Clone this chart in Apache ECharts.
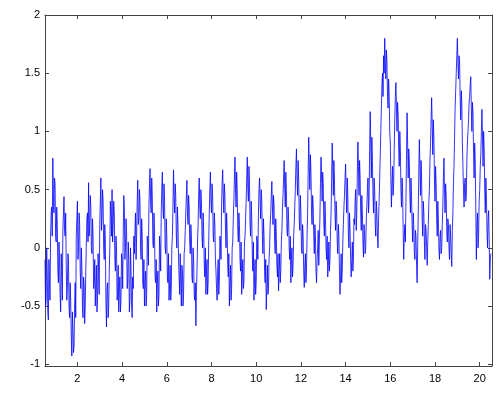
<!DOCTYPE html>
<html><head><meta charset="utf-8">
<script src="https://cdn.jsdelivr.net/npm/echarts@6/dist/echarts.min.js"></script>
<style>html,body{margin:0;padding:0;background:#fff}#c{width:500px;height:393px}</style>
</head><body><div id="c"></div>
<script>
// sampling grid: main samples at tStart + i*tStep, in-between samples half a step later
const tStart = 0.55;
const tStep = 0.05;
// main samples, one row per unit of time (20 samples each)
const signal = [
 -0.1,-0.45,-0.2,-0.62,-0.3,0.1,0.35,0.77,0.3,0.55,0.05,0.2,-0.3,-0.1,-0.55,-0.2,0.15,0.44,0.1,-0.15,
 -0.35,-0.1,-0.6,-0.45,-0.93,-0.7,-0.85,-0.3,0.1,0.4,0.0,0.2,-0.35,-0.15,-0.6,-0.3,-0.5,0.05,0.3,0.56,
 0.2,0.35,-0.05,0.1,-0.3,-0.5,-0.15,-0.45,-0.2,0.2,0.6,0.25,0.4,-0.1,0.05,-0.68,-0.3,-0.5,0.0,0.3,
 0.5,0.2,0.3,-0.2,0.0,-0.4,-0.55,-0.25,-0.45,-0.1,0.1,0.35,0.0,0.15,-0.3,-0.1,-0.45,-0.2,-0.6,-0.35,
 -0.05,0.3,0.1,0.58,0.25,0.4,-0.1,0.1,-0.35,-0.5,-0.2,-0.4,0.05,0.35,0.68,0.3,0.45,0.0,0.15,-0.3,
 -0.55,-0.2,-0.4,0.0,0.3,0.65,0.25,0.4,-0.05,0.1,-0.3,-0.45,-0.15,-0.35,0.1,0.67,0.3,0.45,0.0,0.2,
 -0.25,-0.05,-0.5,-0.2,-0.4,0.0,0.3,0.58,0.2,0.35,-0.05,0.1,-0.3,-0.1,-0.45,-0.67,-0.2,0.2,0.6,0.25,
 0.4,0.0,0.15,-0.25,-0.4,-0.1,-0.3,0.3,0.65,0.3,0.45,0.05,0.2,-0.2,-0.45,-0.1,-0.3,0.05,0.35,0.67,
 0.3,0.45,0.0,0.15,-0.25,-0.5,-0.15,-0.35,0.05,0.4,0.78,0.35,0.5,0.05,0.2,-0.2,-0.4,-0.1,-0.3,0.1,
 0.4,0.78,0.4,0.55,0.1,0.25,-0.2,-0.45,-0.1,-0.3,0.05,0.3,0.6,0.25,0.4,-0.05,0.1,-0.3,-0.53,-0.15,
 -0.35,0.0,0.3,0.57,0.2,0.35,-0.05,0.1,-0.25,-0.37,-0.05,-0.2,0.15,0.45,0.75,0.35,0.5,0.1,0.25,-0.1,
 -0.3,0.0,-0.15,0.2,0.5,0.85,0.45,0.6,0.15,0.3,-0.05,0.1,-0.34,-0.05,-0.2,0.3,0.95,0.5,0.65,0.2,
 0.35,-0.05,0.1,-0.3,0.0,-0.15,0.25,0.78,0.4,0.55,0.1,0.25,-0.1,-0.25,0.05,-0.1,0.3,0.9,0.45,0.6,
 0.15,0.3,-0.05,0.1,-0.4,-0.05,-0.2,0.2,0.45,0.72,0.3,0.45,0.0,0.15,-0.25,0.05,-0.1,0.2,0.5,0.3,
 0.91,0.45,0.6,0.15,0.3,-0.08,0.1,0.0,0.35,0.6,0.4,1.17,0.6,0.75,0.3,0.5,0.1,0.3,0.0,0.4,
 0.8,1.2,1.5,1.65,1.8,1.45,1.6,1.2,1.3,0.9,0.35,0.7,0.55,1.1,1.42,1.0,1.15,0.7,0.85,0.35,
 0.5,-0.1,0.2,0.4,1.16,0.6,0.75,0.3,0.45,0.05,0.2,-0.1,0.1,-0.3,0.3,0.93,0.45,0.6,0.1,0.3,
 -0.1,0.15,-0.15,0.2,0.5,0.9,1.29,0.8,0.95,0.4,0.55,0.1,0.25,-0.1,0.15,0.0,0.35,0.77,0.3,0.45,
 0.05,0.2,-0.1,0.1,-0.16,0.3,0.7,1.2,1.5,1.8,1.45,1.6,1.1,1.25,0.7,0.35,0.6,0.45,0.9,1.1,
 1.3,1.47,1.0,1.15,0.6,0.75,-0.1,0.3,0.1,0.5,0.8,1.19,0.7,0.85,0.3,0.45,0.0,0.32,-0.27,-0.05
];
// in-between samples (half a step after each main sample)
const signalMid = [
 -0.5,0.0,-0.55,-0.1,-0.45,0.3,0.1,0.45,0.6,0.1,0.35,-0.2,0.05,-0.4,-0.05,-0.45,0.3,0.15,0.3,-0.45,
 -0.05,-0.5,-0.3,-0.75,-0.55,-0.9,-0.5,-0.6,0.25,-0.1,0.3,-0.2,0.0,-0.5,-0.25,-0.65,-0.2,0.25,0.05,0.1,
 0.45,0.0,0.25,-0.35,-0.1,-0.3,-0.55,-0.05,-0.4,0.4,0.15,0.5,0.0,0.2,-0.45,-0.35,-0.6,-0.2,0.4,0.1,
 0.05,0.4,-0.1,0.1,-0.45,-0.15,-0.35,-0.55,-0.05,-0.35,0.45,-0.1,0.25,-0.35,0.05,-0.55,0.0,-0.5,-0.25,0.1,
 0.15,-0.1,0.4,0.2,0.5,0.0,0.25,-0.3,-0.1,-0.3,-0.5,0.1,-0.15,0.55,0.4,0.6,0.05,0.3,-0.25,-0.1,
 -0.3,-0.5,0.1,-0.2,0.5,0.35,0.55,0.0,0.25,-0.25,-0.05,-0.3,-0.45,0.0,0.35,0.45,0.55,0.1,0.35,-0.1,
 -0.4,-0.3,-0.15,-0.5,-0.05,0.15,0.45,0.3,0.45,0.05,0.2,-0.25,0.0,-0.4,-0.3,-0.4,0.05,0.45,0.35,0.5,
 0.1,0.3,-0.15,0.0,-0.2,-0.4,0.05,0.5,0.4,0.55,0.1,0.3,-0.1,-0.35,-0.2,-0.4,0.1,-0.1,0.55,0.45,
 0.55,0.15,0.3,-0.15,-0.05,-0.3,-0.45,0.0,0.25,0.6,0.5,0.65,0.15,0.3,-0.1,0.05,-0.25,-0.35,0.05,0.25,
 0.6,0.5,0.7,0.2,0.4,-0.05,0.05,-0.25,-0.4,0.1,-0.1,0.5,0.4,0.5,0.1,0.25,-0.2,-0.1,-0.35,-0.4,
 -0.1,0.2,0.45,0.35,0.45,0.05,0.25,-0.15,-0.05,-0.2,-0.3,0.05,0.35,0.6,0.5,0.65,0.15,0.35,0.0,0.1,
 -0.1,-0.25,0.1,0.35,0.7,0.6,0.75,0.25,0.45,0.0,0.2,-0.2,-0.15,-0.3,0.1,0.65,0.7,0.8,0.3,0.45,
 0.1,0.2,-0.2,-0.1,0.15,0.05,0.55,0.6,0.65,0.2,0.4,0.0,0.1,-0.15,-0.2,0.15,0.6,0.7,0.75,0.3,
 0.4,0.05,0.2,-0.2,-0.25,-0.3,0.05,0.35,0.6,0.5,0.6,0.1,0.3,-0.1,-0.1,-0.2,0.25,0.4,0.15,0.65,
 0.7,0.75,0.3,0.45,0.05,0.2,-0.05,0.25,0.5,0.3,0.85,0.9,0.95,0.45,0.6,0.2,0.4,0.1,0.25,0.6,
 1.0,1.4,1.3,1.5,1.6,1.7,1.3,1.45,1.0,0.6,0.55,0.45,0.85,1.3,1.2,1.25,0.85,1.0,0.5,0.6,
 0.15,0.1,0.05,0.8,0.9,0.85,0.45,0.6,0.2,0.3,-0.05,0.15,-0.15,0.0,0.65,0.7,0.75,0.25,0.4,0.05,
 0.2,0.0,0.05,0.4,0.75,1.1,1.05,1.1,0.6,0.7,0.25,0.4,0.0,0.1,-0.05,0.2,0.6,0.5,0.55,0.15,
 0.25,0.0,0.2,-0.05,0.15,0.55,0.95,1.35,1.65,1.6,1.65,1.3,1.35,0.9,0.5,0.55,0.4,0.75,1.0,1.25,
 1.4,1.2,1.25,0.8,0.9,0.35,0.2,0.0,0.4,0.7,1.0,0.95,1.0,0.5,0.6,0.15,0.25,0.05,-0.1
];
const xTicks = [2,4,6,8,10,12,14,16,18,20];
const yTicks = [-1,-0.5,0,0.5,1,1.5,2];

const points = [];
signal.forEach((v,i)=>{
  const t = tStart + i*tStep;
  points.push([+t.toFixed(4), v]);
  if (i < signalMid.length) points.push([+(t + tStep/2).toFixed(4), signalMid[i]]);
});
const axisCol = '#444';
const font = {fontFamily:'Liberation Sans, Arial, sans-serif', fontSize:11, color:'#000'};
function xa(pos, show){
  return {type:'value', position:pos, min:0.55, max:20.55,
    axisLine:{show:true, onZero:false, lineStyle:{color:axisCol,width:1}},
    axisTick:{show:true, inside:true, length:4, customValues:xTicks, lineStyle:{color:axisCol}},
    axisLabel:Object.assign({show:show, margin:7, customValues:xTicks}, font),
    splitLine:{show:false}};
}
function ya(pos, show){
  return {type:'value', position:pos, min:-1.015, max:2,
    axisLine:{show:true, onZero:false, lineStyle:{color:axisCol,width:1}},
    axisTick:{show:true, inside:true, length:4, customValues:yTicks, lineStyle:{color:axisCol}},
    axisLabel:Object.assign({show:show, margin:5, customValues:yTicks}, font),
    splitLine:{show:false}};
}
const chart = echarts.init(document.getElementById('c'), null, {renderer:'canvas'});
chart.setOption({
  animation:false,
  backgroundColor:'#fff',
  grid:{left:45, right:8, top:15, bottom:27, containLabel:false},
  xAxis:[xa('bottom',true), xa('top',false)],
  yAxis:[ya('left',true), ya('right',false)],
  series:[{type:'line', data:points, showSymbol:false, symbol:'none', sampling:null,
    lineStyle:{color:'#0000ff', width:0.8}, xAxisIndex:0, yAxisIndex:0}]
});
</script></body></html>
